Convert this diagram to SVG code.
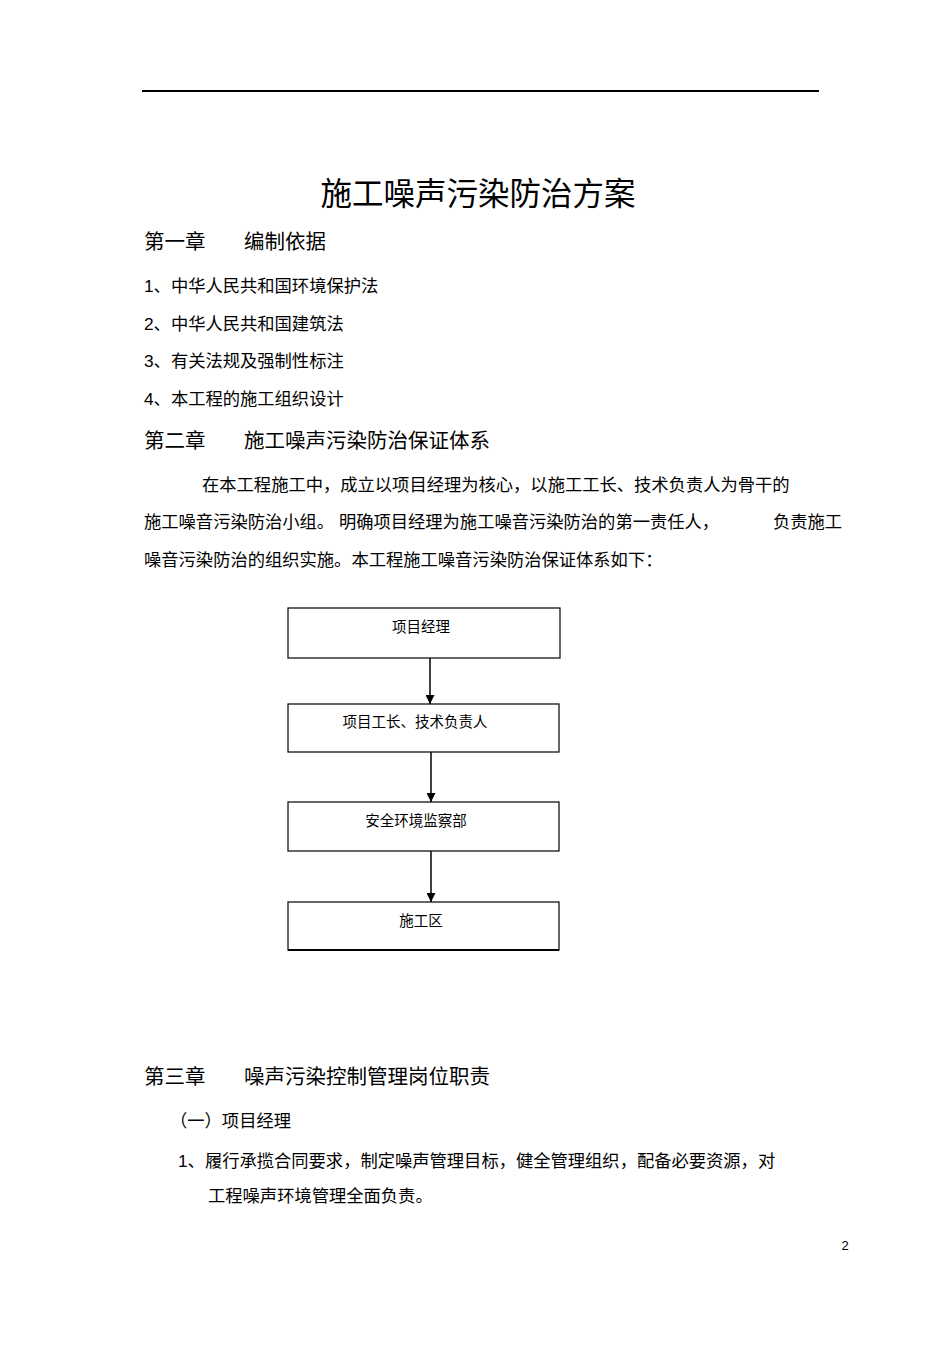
<svg xmlns="http://www.w3.org/2000/svg" width="950" height="1345" viewBox="0 0 950 1345">
<defs>
<style>
text{font-family:"Liberation Sans","Noto Sans CJK SC",sans-serif;fill:#000}
.b{font-size:17.3px}
.h{font-size:20.5px}
.n{font-size:14.5px;text-anchor:middle}
.box{fill:#fff;stroke:#000;stroke-width:1.2}
.c{stroke:#000;stroke-width:1.5;fill:none;marker-end:url(#a)}
</style>
<marker id="a" viewBox="0 0 10 10" refX="10" refY="5" markerWidth="6" markerHeight="6" orient="auto"><path d="M0,0L10,5L0,10z" fill="#000"/></marker>
</defs>
<rect width="950" height="1345" fill="#fff"/>
<line x1="142" y1="91" x2="819" y2="91" stroke="#000" stroke-width="2"/>
<text x="478" y="205" font-size="31.5" text-anchor="middle">施工噪声污染防治方案</text>
<text class="h" x="144" y="249">第一章</text><text class="h" x="244" y="249">编制依据</text>
<text class="b" x="144" y="292">1、中华人民共和国环境保护法</text>
<text class="b" x="144" y="330">2、中华人民共和国建筑法</text>
<text class="b" x="144" y="367">3、有关法规及强制性标注</text>
<text class="b" x="144" y="405">4、本工程的施工组织设计</text>
<text class="h" x="144" y="448">第二章</text><text class="h" x="244" y="448">施工噪声污染防治保证体系</text>
<text class="b" x="202" y="491">在本工程施工中，成立以项目经理为核心，以施工工长、技术负责人为骨干的</text>
<text class="b" x="144" y="528">施工噪音污染防治小组。 明确项目经理为施工噪音污染防治的第一责任人，</text>
<text class="b" x="773" y="528">负责施工</text>
<text class="b" x="144" y="566">噪音污染防治的组织实施。本工程施工噪音污染防治保证体系如下：</text>
<g id="n1"><rect class="box" x="288" y="608" width="272" height="50"/><text class="n" x="421" y="632">项目经理</text></g>
<g id="n2"><rect class="box" x="288" y="704" width="271" height="48"/><text class="n" x="415" y="727">项目工长、技术负责人</text></g>
<g id="n3"><rect class="box" x="288" y="802" width="271" height="49"/><text class="n" x="416" y="826">安全环境监察部</text></g>
<g id="n4"><rect class="box" x="288" y="902" width="271" height="48"/><line x1="288" y1="950" x2="559" y2="950" stroke="#000" stroke-width="2"/><text class="n" x="421" y="926">施工区</text></g>
<g id="connectors">
<path class="c" d="M430,658L430,704"/>
<path class="c" d="M431,752L431,802"/>
<path class="c" d="M431,851L431,902"/>
</g>
<text class="h" x="144" y="1084">第三章</text><text class="h" x="244" y="1084">噪声污染控制管理岗位职责</text>
<text class="b" x="170" y="1127">（一）项目经理</text>
<text class="b" x="178" y="1167">1、履行承揽合同要求，制定噪声管理目标，健全管理组织，配备必要资源，对</text>
<text class="b" x="208" y="1202">工程噪声环境管理全面负责。</text>
<text x="845" y="1250" font-size="13" text-anchor="middle">2</text>
</svg>
